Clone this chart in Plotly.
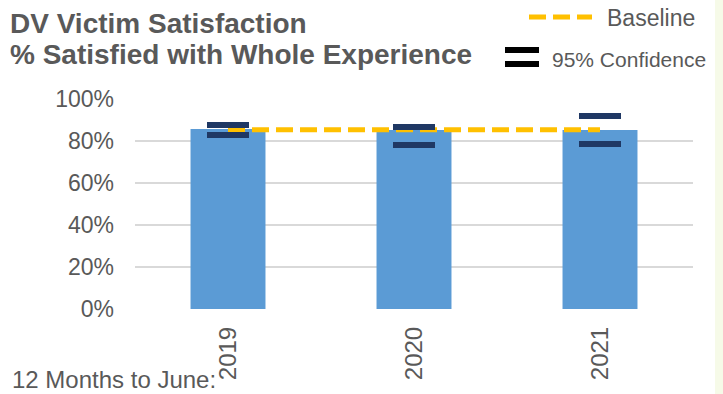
import plotly.graph_objects as go

# Survey results, 12 months to June
years = ["2019", "2020", "2021"]
satisfied = [0.857, 0.852, 0.852]
ci_upper = [0.876, 0.867, 0.919]
ci_lower = [0.829, 0.781, 0.786]
baseline = [0.854, 0.854, 0.854]

BAR_BLUE = "#5B9BD5"
CI_NAVY = "#1F3864"
BASE_GOLD = "#FFC000"
GREY_TEXT = "#595959"
FONT = "Liberation Sans, Arial, sans-serif"

fig = go.Figure()

fig.add_trace(go.Bar(
    x=years, y=satisfied, marker=dict(color=BAR_BLUE, line=dict(width=0)),
    showlegend=False, hoverinfo="skip",
))

fig.add_trace(go.Scatter(
    x=years, y=baseline, mode="lines",
    line=dict(color=BASE_GOLD, width=5, dash="17px,7px"),
    showlegend=False, hoverinfo="skip",
))

for bound in (ci_upper, ci_lower):
    fig.add_trace(go.Scatter(
        x=years, y=bound, mode="markers",
        marker=dict(symbol="line-ew", size=30,
                    line=dict(color=CI_NAVY, width=6)),
        showlegend=False, hoverinfo="skip",
    ))

# Helper: pixel position -> paper coordinates (plot area 135..693 x, 99..309 y)
def px(xp):
    return (xp - 135) / 558.0

def py(yp):
    return (309 - yp) / 210.0

annotations = [
    dict(text="<b>DV Victim Satisfaction</b>", x=px(8), y=py(24),
         xanchor="left", yanchor="middle", font=dict(size=28, color=GREY_TEXT)),
    dict(text="<b>% Satisfied with Whole Experience</b>", x=px(8), y=py(54),
         xanchor="left", yanchor="middle", font=dict(size=28, color=GREY_TEXT)),
    dict(text="Baseline", x=px(605), y=py(18),
         xanchor="left", yanchor="middle", font=dict(size=23, color=GREY_TEXT)),
    dict(text="95% Confidence", x=px(550), y=py(59),
         xanchor="left", yanchor="middle", font=dict(size=21, color=GREY_TEXT)),
    dict(text="12 Months to June:", x=px(10), y=py(379),
         xanchor="left", yanchor="middle", font=dict(size=24, color=GREY_TEXT)),
]
for a in annotations:
    a.update(xref="paper", yref="paper", showarrow=False)

shapes = [
    # legend key: baseline
    dict(type="line", x0=px(529), x1=px(592), y0=py(17), y1=py(17),
         line=dict(color=BASE_GOLD, width=5, dash="17px,7px")),
    # legend key: confidence bars
    dict(type="line", x0=px(505), x1=px(539), y0=py(50), y1=py(50),
         line=dict(color="#000000", width=6)),
    dict(type="line", x0=px(505), x1=px(539), y0=py(64), y1=py(64),
         line=dict(color="#000000", width=6)),
    # pale strip along right edge
    dict(type="rect", x0=px(715), x1=px(723), y0=py(0), y1=py(394),
         fillcolor="#F6FAE8", line=dict(width=0), layer="below"),
]
for s in shapes:
    s.update(xref="paper", yref="paper")

fig.update_layout(
    width=723, height=394,
    margin=dict(l=135, r=30, t=99, b=85, pad=0),
    paper_bgcolor="white", plot_bgcolor="white",
    font=dict(family=FONT, color=GREY_TEXT),
    bargap=0.597,
    annotations=annotations,
    shapes=shapes,
    xaxis=dict(
        type="category", tickangle=-90, showgrid=False, zeroline=False,
        showline=False, ticks="", tickfont=dict(size=24, color=GREY_TEXT),
        ticklabelstandoff=12,
    ),
    yaxis=dict(
        range=[0, 1], tickvals=[0, 0.2, 0.4, 0.6, 0.8, 1.0],
        tickformat=".0%", showgrid=True, gridcolor="#D9D9D9", gridwidth=2,
        zeroline=False, showline=False, ticks="",
        tickfont=dict(size=23, color=GREY_TEXT), ticklabelstandoff=20,
    ),
)

fig.write_html("out.html")
